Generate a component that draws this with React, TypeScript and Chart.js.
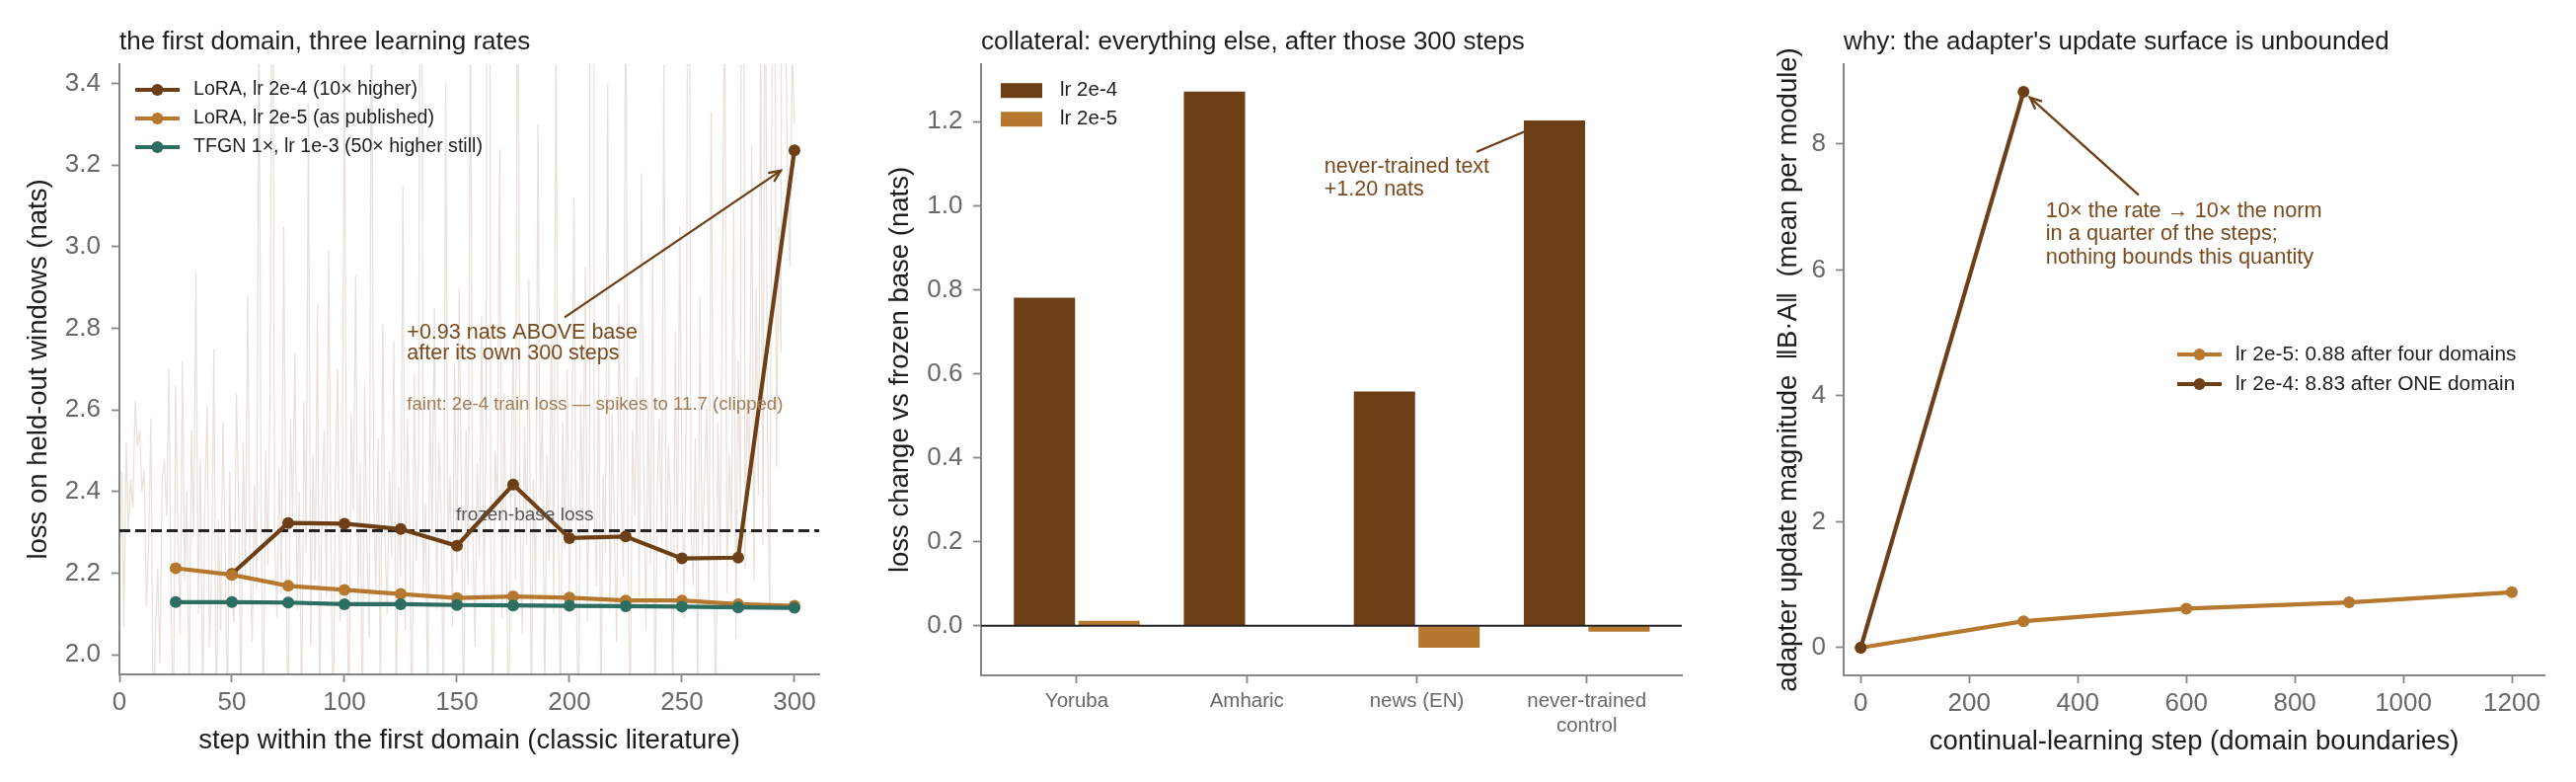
import React, { useEffect, useRef } from "react";
import { Chart, registerables } from "chart.js";

Chart.register(...registerables);

const FONT = '"Liberation Sans", Arial, Helvetica, sans-serif';
Chart.defaults.font.family = FONT;

const DARK = "#6c3f17";
const ORANGE = "#b6772e";
const TEAL = "#2c6e61";
const NOTE = "#7a4a1e";
const SPINE = "#868983";
const TICK = "#666964";
const INK = "#1d1d1d";

// ---- left panel: first domain, three learning rates
const EVAL_STEPS = [25, 50, 75, 100, 125, 150, 175, 200, 225, 250, 275, 300];
const LOSS_LORA_2E4 = [null, 2.198, 2.323, 2.321, 2.308, 2.267, 2.417, 2.286, 2.290, 2.236, 2.238, 3.236];
const LOSS_LORA_2E5 = [2.212, 2.196, 2.169, 2.159, 2.149, 2.139, 2.143, 2.140, 2.133, 2.133, 2.124, 2.120];
const LOSS_TFGN = [2.129, 2.129, 2.128, 2.124, 2.124, 2.122, 2.121, 2.120, 2.119, 2.118, 2.116, 2.115];
const FROZEN_BASE_LOSS = 2.304;
// per-step train loss of the 2e-4 run (steps 1..300)
const TRAIN_LOSS_2E4 = [
  2.45, 2.07, 2.52, 2.30, 2.43, 2.36, 2.62, 2.51, 2.55, 2.40, 2.45, 2.12, 2.28, 2.58, 1.82, 2.05, 2.21, 1.98, 2.44, 2.47,
  2.34, 2.70, 2.12, 1.80, 2.66, 2.31, 2.05, 2.72, 2.18, 2.40, 1.85, 2.55, 2.29, 2.94, 2.10, 2.48, 1.86, 2.38, 2.61, 2.02,
  2.20, 2.75, 1.78, 2.33, 2.06, 2.57, 2.27, 1.84, 2.45, 2.13, 2.08, 2.64, 2.36, 1.87, 2.52, 2.19, 2.88, 2.24, 2.03, 2.42,
  2.16, 3.60, 2.31, 1.83, 2.50, 2.22, 2.68, 4.10, 2.28, 2.09, 2.46, 2.15, 3.05, 2.26, 1.79, 2.58, 2.34, 2.74, 2.11, 2.40,
  1.81, 2.62, 2.25, 3.35, 2.02, 2.49, 2.18, 2.86, 1.85, 2.37, 2.55, 2.14, 2.99, 2.29, 1.77, 2.44, 2.70, 2.08, 2.33, 3.48,
  2.21, 1.84, 2.59, 2.35, 2.93, 2.12, 2.47, 1.80, 2.66, 2.27, 2.04, 3.72, 2.38, 2.16, 2.53, 1.88, 2.81, 2.30, 2.10, 2.45,
  2.24, 2.77, 1.82, 2.41, 2.19, 3.15, 2.06, 2.58, 2.32, 1.76, 2.69, 2.23, 2.48, 5.20, 2.15, 2.37, 1.87, 2.63, 2.28, 2.85,
  2.11, 2.52, 2.34, 1.83, 3.40, 2.26, 2.44, 2.07, 2.71, 2.20, 2.90, 2.39, 1.78, 2.55, 2.17, 3.62, 2.31, 2.02, 2.47, 2.24,
  2.83, 2.13, 2.58, 6.40, 2.29, 1.85, 2.50, 2.36, 3.24, 2.09, 2.64, 2.21, 1.81, 2.45, 2.75, 2.18, 3.95, 2.33, 2.05, 2.56,
  2.27, 2.92, 1.80, 2.43, 2.15, 3.30, 2.38, 2.62, 1.88, 2.49, 2.23, 2.81, 2.10, 3.55, 2.35, 1.83, 2.57, 2.26, 2.70, 2.12,
  2.46, 3.12, 2.20, 1.77, 2.64, 2.31, 2.95, 2.08, 2.52, 11.7, 2.37, 2.17, 2.73, 1.86, 2.44, 2.25, 3.40, 2.11, 2.59, 2.30,
  2.03, 2.86, 2.41, 2.19, 3.80, 2.28, 1.82, 2.55, 2.34, 2.68, 2.14, 3.18, 2.47, 2.06, 2.62, 2.22, 2.97, 1.79, 2.40, 2.58,
  2.27, 3.45, 2.13, 2.51, 2.36, 1.84, 2.79, 2.20, 3.05, 2.44, 2.09, 2.66, 4.60, 2.31, 2.17, 2.53, 1.88, 2.88, 2.25, 2.42,
  2.61, 2.12, 3.33, 2.38, 1.80, 2.57, 2.23, 2.94, 3.70, 2.15, 2.49, 2.30, 3.10, 2.04, 2.72, 2.35, 5.80, 2.21, 2.63, 2.43,
  3.25, 2.18, 2.90, 2.39, 3.52, 2.27, 3.95, 2.55, 2.11, 3.38, 4.20, 2.46, 3.05, 2.74, 7.10, 3.60, 3.15, 2.95, 3.48, 3.30,
];
const LEFT_X_TICKS = [0, 50, 100, 150, 200, 250, 300];
const LEFT_Y_TICKS = [2.0, 2.2, 2.4, 2.6, 2.8, 3.0, 3.2, 3.4];

// ---- middle panel: collateral damage on other text
const EVAL_SETS: (string | string[])[] = ["Yoruba", "Amharic", "news (EN)", ["never-trained", "control"]];
const DELTA_LR_2E4 = [0.781, 1.272, 0.558, 1.203];
const DELTA_LR_2E5 = [0.012, 0.002, -0.052, -0.014];
const MID_Y_TICKS = [0, 0.2, 0.4, 0.6, 0.8, 1.0, 1.2];

// ---- right panel: adapter update norm
const CL_STEPS = [0, 300, 600, 900, 1200];
const NORM_LR_2E5 = [0, 0.42, 0.62, 0.72, 0.88];
const NORM_LR_2E4 = [0, 8.83];
const RIGHT_X_TICKS = [0, 200, 400, 600, 800, 1000, 1200];
const RIGHT_Y_TICKS = [0, 2, 4, 6, 8];

const LINE_W = 4.2;
const DOT_R = 6;

function txt(ctx: CanvasRenderingContext2D, s: string, x: number, y: number, size: number, color: string, align: CanvasTextAlign = "left", baseline: CanvasTextBaseline = "middle") {
  ctx.save();
  ctx.font = `${size}px ${FONT}`;
  ctx.fillStyle = color;
  ctx.textAlign = align;
  ctx.textBaseline = baseline;
  ctx.fillText(s, x, y);
  ctx.restore();
}

function arrow(ctx: CanvasRenderingContext2D, x1: number, y1: number, x2: number, y2: number, color: string, head = true) {
  ctx.save();
  ctx.strokeStyle = color;
  ctx.lineWidth = 2.3;
  ctx.lineCap = "round";
  ctx.beginPath();
  ctx.moveTo(x1, y1);
  ctx.lineTo(x2, y2);
  ctx.stroke();
  if (head) {
    const a = Math.atan2(y2 - y1, x2 - x1);
    const L = 12, W = 0.42;
    ctx.beginPath();
    ctx.moveTo(x2 - L * Math.cos(a - W), y2 - L * Math.sin(a - W));
    ctx.lineTo(x2, y2);
    ctx.lineTo(x2 - L * Math.cos(a + W), y2 - L * Math.sin(a + W));
    ctx.stroke();
  }
  ctx.restore();
}

function lineKey(ctx: CanvasRenderingContext2D, x: number, y: number, color: string, label: string, size: number) {
  ctx.save();
  ctx.strokeStyle = color;
  ctx.fillStyle = color;
  ctx.lineWidth = LINE_W;
  ctx.beginPath();
  ctx.moveTo(x, y);
  ctx.lineTo(x + 45, y);
  ctx.stroke();
  ctx.beginPath();
  ctx.arc(x + 22.5, y, DOT_R, 0, Math.PI * 2);
  ctx.fill();
  ctx.restore();
  txt(ctx, label, x + 59, y, size, INK);
}

function title(chart: any, s: string) {
  txt(chart.ctx, s, chart.chartArea.left, 49.5, 26, INK, "left", "alphabetic");
}

function axis(min: number, max: number, values: number[], extra: any = {}) {
  return {
    type: "linear",
    min,
    max,
    offset: false,
    afterBuildTicks: (s: any) => {
      s.ticks = values.map((v) => ({ value: v }));
    },
    border: { display: true, color: SPINE, width: 2 },
    grid: { display: true, drawOnChartArea: false, drawTicks: true, tickLength: 8, tickColor: SPINE, tickWidth: 1.8, offset: false },
    ...extra,
  };
}

function tickStyle(size: number, padding: number, callback: (v: any) => any, lineHeight = 1.2) {
  return { color: TICK, font: { family: FONT, size, lineHeight }, padding, maxRotation: 0, autoSkip: false, callback };
}

function axisTitle(text: string, pad: any) {
  return { display: true, text, color: INK, font: { family: FONT, size: 27.5 }, padding: pad };
}

const baseOptions = {
  responsive: false,
  animation: false,
  events: [],
  plugins: { legend: { display: false }, tooltip: { enabled: false }, title: { display: false } },
};

function leftConfig(): any {
  const line = (label: string, values: (number | null)[], color: string, order: number) => ({
    label,
    data: EVAL_STEPS.map((s, i) => ({ x: s, y: values[i] })),
    borderColor: color,
    backgroundColor: color,
    borderWidth: LINE_W,
    pointRadius: DOT_R,
    pointHoverRadius: DOT_R,
    pointBorderWidth: 0,
    pointBackgroundColor: color,
    order,
  });
  const decor = {
    id: "leftDecor",
    afterDatasetDraw(chart: any, args: any) {
      if (args.index !== 0) return;
      const { ctx, chartArea: a, scales } = chart;
      const py = scales.y.getPixelForValue(FROZEN_BASE_LOSS);
      ctx.save();
      ctx.setLineDash([11, 5]);
      ctx.strokeStyle = "#222";
      ctx.lineWidth = 2.8;
      ctx.beginPath();
      ctx.moveTo(a.left, py);
      ctx.lineTo(a.right, py);
      ctx.stroke();
      ctx.restore();
    },
    afterDraw(chart: any) {
      const { ctx, scales } = chart;
      const X = (v: number) => scales.x.getPixelForValue(v);
      const Y = (v: number) => scales.y.getPixelForValue(v);
      title(chart, "the first domain, three learning rates");
      lineKey(ctx, 137, 91, DARK, "LoRA, lr 2e-4 (10× higher)", 19.6);
      lineKey(ctx, 137, 120, ORANGE, "LoRA, lr 2e-5 (as published)", 19.6);
      lineKey(ctx, 137, 149, TEAL, "TFGN 1×, lr 1e-3 (50× higher still)", 19.6);
      txt(ctx, "frozen-base loss", X(149.6), Y(2.342), 19, "#555");
      txt(ctx, "+0.93 nats ABOVE base", X(127.8), Y(2.789), 21.5, NOTE);
      txt(ctx, "after its own 300 steps", X(127.8), Y(2.737), 21.5, NOTE);
      txt(ctx, "faint: 2e-4 train loss — spikes to 11.7 (clipped)", X(127.8), Y(2.613), 18.6, "#a27c58");
      arrow(ctx, X(198.2), Y(2.828), X(293.9), Y(3.186), DARK);
    },
  };
  return {
    type: "line",
    data: {
      datasets: [
        {
          label: "train loss",
          data: TRAIN_LOSS_2E4.map((v, i) => ({ x: i + 1, y: v })),
          borderColor: "rgba(107,61,23,0.15)",
          borderWidth: 1.3,
          pointRadius: 0,
          order: 4,
        },
        line("LoRA, lr 2e-4 (10× higher)", LOSS_LORA_2E4, DARK, 3),
        line("LoRA, lr 2e-5 (as published)", LOSS_LORA_2E5, ORANGE, 2),
        line("TFGN 1×, lr 1e-3 (50× higher still)", LOSS_TFGN, TEAL, 1),
      ],
    },
    options: {
      ...baseOptions,
      layout: { padding: { left: 0, right: 30, top: 65, bottom: 0 } },
      scales: {
        x: axis(0, 311, LEFT_X_TICKS, {
          afterFit: (s: any) => { s.height = 109; },
          title: axisTitle("step within the first domain (classic literature)", { top: 0, bottom: 25.5 }),
          ticks: tickStyle(26, 5.5, (v) => String(v)),
        }),
        y: axis(1.952, 3.447, LEFT_Y_TICKS, {
          afterFit: (s: any) => { s.width = 121; },
          title: axisTitle("loss on held-out windows (nats)", { top: 23, bottom: 0 }),
          ticks: tickStyle(26, 11, (v) => Number(v).toFixed(1)),
        }),
      },
    },
    plugins: [decor],
  };
}

function middleConfig(): any {
  const bars = (label: string, values: number[], color: string) => ({
    label,
    data: values.map((v, i) => ({ x: i, y: v })),
    backgroundColor: color,
    borderWidth: 0,
    categoryPercentage: 0.76,
    barPercentage: 0.948,
  });
  const decor = {
    id: "midDecor",
    beforeDatasetsDraw(chart: any) {
      const { ctx, scales } = chart;
      const X = (v: number) => scales.x.getPixelForValue(v);
      const Y = (v: number) => scales.y.getPixelForValue(v);
      arrow(ctx, X(2.356), Y(1.129), X(2.631), Y(1.176), DARK, false);
    },
    afterDatasetsDraw(chart: any) {
      const { ctx, chartArea: a, scales } = chart;
      const py = scales.y.getPixelForValue(0);
      ctx.save();
      ctx.strokeStyle = "#222";
      ctx.lineWidth = 2;
      ctx.beginPath();
      ctx.moveTo(a.left, py);
      ctx.lineTo(a.right, py);
      ctx.stroke();
      ctx.restore();
    },
    afterDraw(chart: any) {
      const { ctx, scales } = chart;
      const X = (v: number) => scales.x.getPixelForValue(v);
      const Y = (v: number) => scales.y.getPixelForValue(v);
      title(chart, "collateral: everything else, after those 300 steps");
      ctx.fillStyle = DARK;
      ctx.fillRect(1014 - 860, 84.2, 42, 15);
      ctx.fillStyle = ORANGE;
      ctx.fillRect(1014 - 860, 113.2, 42, 15);
      txt(ctx, "lr 2e-4", 1074 - 860, 91.7, 20.5, INK);
      txt(ctx, "lr 2e-5", 1074 - 860, 120.7, 20.5, INK);
      txt(ctx, "never-trained text", X(1.456), Y(1.092), 21.5, NOTE);
      txt(ctx, "+1.20 nats", X(1.456), Y(1.038), 21.5, NOTE);
    },
  };
  return {
    type: "bar",
    data: {
      datasets: [bars("lr 2e-4", DELTA_LR_2E4, DARK), bars("lr 2e-5", DELTA_LR_2E5, ORANGE)],
    },
    options: {
      ...baseOptions,
      layout: { padding: { left: 0, right: 16, top: 65, bottom: 0 } },
      scales: {
        x: axis(-0.563, 3.559, [0, 1, 2, 3], {
          afterFit: (s: any) => { s.height = 108; },
          ticks: tickStyle(20.5, 5.5, (v) => EVAL_SETS[Math.round(Number(v))], 1.22),
        }),
        y: axis(-0.118, 1.337, MID_Y_TICKS, {
          afterFit: (s: any) => { s.width = 134; },
          title: axisTitle("loss change vs frozen base (nats)", { top: 36, bottom: 0 }),
          ticks: tickStyle(26, 10.5, (v) => Number(v).toFixed(1)),
        }),
      },
    },
    plugins: [decor],
  };
}

function rightConfig(): any {
  const line = (label: string, steps: number[], values: number[], color: string, order: number) => ({
    label,
    data: steps.map((s, i) => ({ x: s, y: values[i] })),
    borderColor: color,
    backgroundColor: color,
    borderWidth: LINE_W,
    pointRadius: DOT_R,
    pointHoverRadius: DOT_R,
    pointBorderWidth: 0,
    pointBackgroundColor: color,
    order,
  });
  const decor = {
    id: "rightDecor",
    afterDraw(chart: any) {
      const { ctx, scales } = chart;
      const X = (v: number) => scales.x.getPixelForValue(v);
      const Y = (v: number) => scales.y.getPixelForValue(v);
      title(chart, "why: the adapter's update surface is unbounded");
      lineKey(ctx, 2206 - 1760, 359, ORANGE, "lr 2e-5: 0.88 after four domains", 20.8);
      lineKey(ctx, 2206 - 1760, 389, DARK, "lr 2e-4: 8.83 after ONE domain", 20.8);
      txt(ctx, "10× the rate → 10× the norm", X(341), Y(6.93), 21.8, NOTE);
      txt(ctx, "in a quarter of the steps;", X(341), Y(6.565), 21.8, NOTE);
      txt(ctx, "nothing bounds this quantity", X(341), Y(6.2), 21.8, NOTE);
      arrow(ctx, X(511), Y(7.2), X(312), Y(8.74), DARK);
    },
  };
  return {
    type: "line",
    data: {
      datasets: [
        line("lr 2e-5: 0.88 after four domains", CL_STEPS, NORM_LR_2E5, ORANGE, 2),
        line("lr 2e-4: 8.83 after ONE domain", CL_STEPS.slice(0, NORM_LR_2E4.length), NORM_LR_2E4, DARK, 1),
      ],
    },
    options: {
      ...baseOptions,
      layout: { padding: { left: 0, right: 32, top: 65, bottom: 0 } },
      scales: {
        x: axis(-31.5, 1260, RIGHT_X_TICKS, {
          afterFit: (s: any) => { s.height = 108; },
          title: axisTitle("continual-learning step (domain boundaries)", { top: 0, bottom: 24.5 }),
          ticks: tickStyle(26, 5.5, (v) => String(v)),
        }),
        y: axis(-0.44, 9.27, RIGHT_Y_TICKS, {
          afterFit: (s: any) => { s.width = 108; },
          title: axisTitle("adapter update magnitude  ‖B·A‖  (mean per module)", { top: 36, bottom: 0 }),
          ticks: tickStyle(26, 10, (v) => String(v)),
        }),
      },
    },
    plugins: [decor],
  };
}

function Panel({ left, width, build }: { left: number; width: number; build: () => any }) {
  const ref = useRef<HTMLCanvasElement>(null);
  useEffect(() => {
    if (!ref.current) return;
    const chart = new Chart(ref.current, build());
    return () => {
      chart.destroy();
    };
  }, []);
  return <canvas ref={ref} width={width} height={792} style={{ position: "absolute", left, top: 0, width, height: 792 }} />;
}

export default function App() {
  return (
    <div style={{ position: "absolute", left: 0, top: 0, width: 2610, height: 792, background: "#fff", overflow: "hidden" }}>
      <Panel left={0} width={860} build={leftConfig} />
      <Panel left={860} width={860} build={middleConfig} />
      <Panel left={1760} width={850} build={rightConfig} />
    </div>
  );
}
